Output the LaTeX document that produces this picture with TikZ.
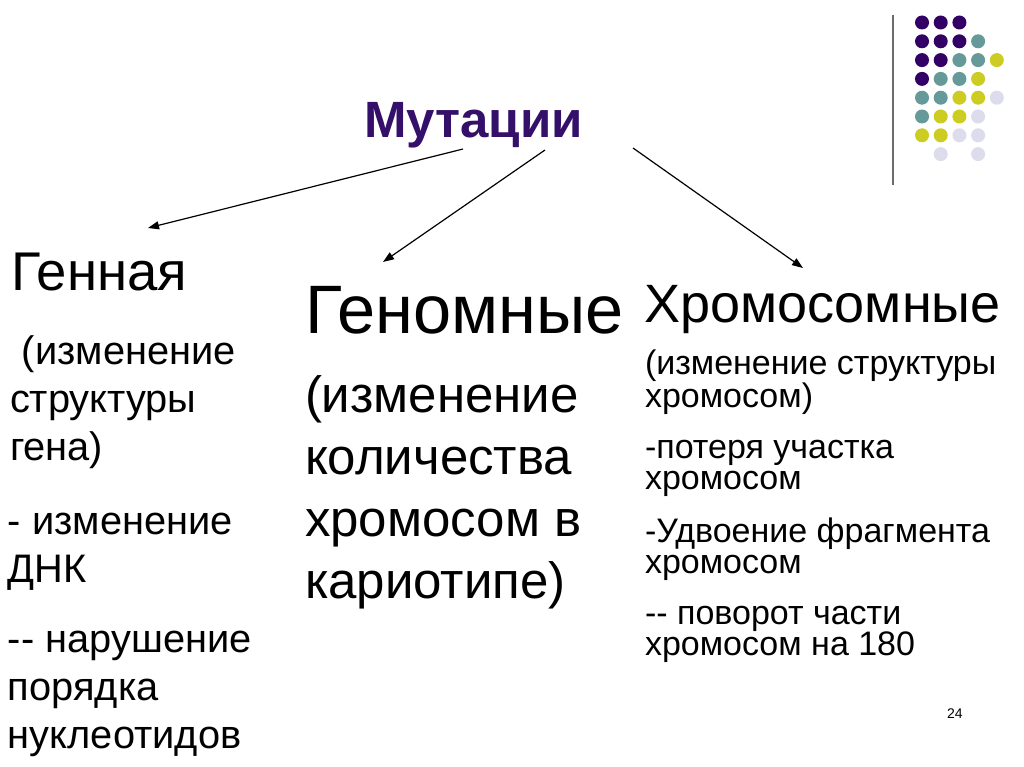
\documentclass[tikz,border=0pt]{standalone}
\usepackage{fontspec}
\setmainfont{Liberation Sans}
\usetikzlibrary{arrows.meta}
\definecolor{ttl}{HTML}{34106A}
\definecolor{dP}{HTML}{330066}
\definecolor{dT}{HTML}{669999}
\definecolor{dY}{HTML}{CCCC22}
\definecolor{dL}{HTML}{DCDCEC}
\tikzset{
  txt/.style={anchor=base west, inner sep=0pt, outer sep=0pt, align=left, text=black},
  conn/.style={-{Triangle[length=11pt,width=8pt]}, line width=1.2pt, draw=black},
  fL/.style={font=\fontsize{39.8}{48}\selectfont},
  fM/.style={font=\fontsize{51}{62}\selectfont},
  fR/.style={font=\fontsize{34}{30.8}\selectfont},
}
\begin{document}
\begin{tikzpicture}[x=1pt,y=-1pt]
\useasboundingbox (0,0) rectangle (1024,767);
\fill[white] (0,0) rectangle (1024,767);
% decoration
\draw[gray!85!black, line width=1.4pt] (893,15) -- (893,185);
\foreach \c/\r/\col in {0/0/dP,1/0/dP,2/0/dP,
  0/1/dP,1/1/dP,2/1/dP,3/1/dT,
  0/2/dP,1/2/dP,2/2/dT,3/2/dT,4/2/dY,
  0/3/dP,1/3/dT,2/3/dT,3/3/dY,
  0/4/dT,1/4/dT,2/4/dY,3/4/dY,4/4/dL,
  0/5/dT,1/5/dY,2/5/dY,3/5/dL,
  0/6/dY,1/6/dY,2/6/dL,3/6/dL,
  1/7/dL,3/7/dL}
  \fill[\col] (922+18.7*\c, 22.5+18.8*\r) circle (7);
% title
\node[txt, font=\fontsize{51}{60}\selectfont\bfseries, text=ttl] (title) at (364,138) {Мутации};
% left (base anchor = last line's baseline)
\node[txt, font=\fontsize{54.5}{60}\selectfont] (gen) at (11,290) {Генная};
\node[txt, fL] (gen1) at (10,460) {\hspace*{0.3em}(изменение\\структуры\\гена)};
\node[txt, fL] (gen2) at (8,582) {- изменение\\ДНК};
\node[txt, fL] (gen3) at (8,748) {-{}- нарушение\\порядка\\нуклеотидов};
% middle
\node[txt, font=\fontsize{68.5}{76}\selectfont] (genom) at (305,333) {Геномные};
\node[txt, fM] (genom1) at (305,598) {(изменение\\количества\\хромосом в\\кариотипе)};
% right
\node[txt, font=\fontsize{54}{62}\selectfont] (chrom) at (644,322) {Хромосомные};
\node[txt, fR] (chrom1) at (645,407) {(изменение структуры\\хромосом)};
\node[txt, fR] (chrom2) at (645,489) {-потеря участка\\хромосом};
\node[txt, fR] (chrom3) at (645,573) {-Удвоение фрагмента\\хромосом};
\node[txt, fR] (chrom4) at (645,655) {-{}- поворот части\\хромосом на 180};
% page number
\node[txt, font=\fontsize{14}{16}\selectfont] (pnum) at (947,718) {24};
% connectors
\coordinate (s1) at (463,149);
\coordinate (s2) at (545,150);
\coordinate (s3) at (633,148);
\coordinate (e1) at (148,228);
\coordinate (e2) at (383,262);
\coordinate (e3) at (803,268);
\draw[conn] (s1) -- (e1);
\draw[conn] (s2) -- (e2);
\draw[conn] (s3) -- (e3);
\end{tikzpicture}
\end{document}
